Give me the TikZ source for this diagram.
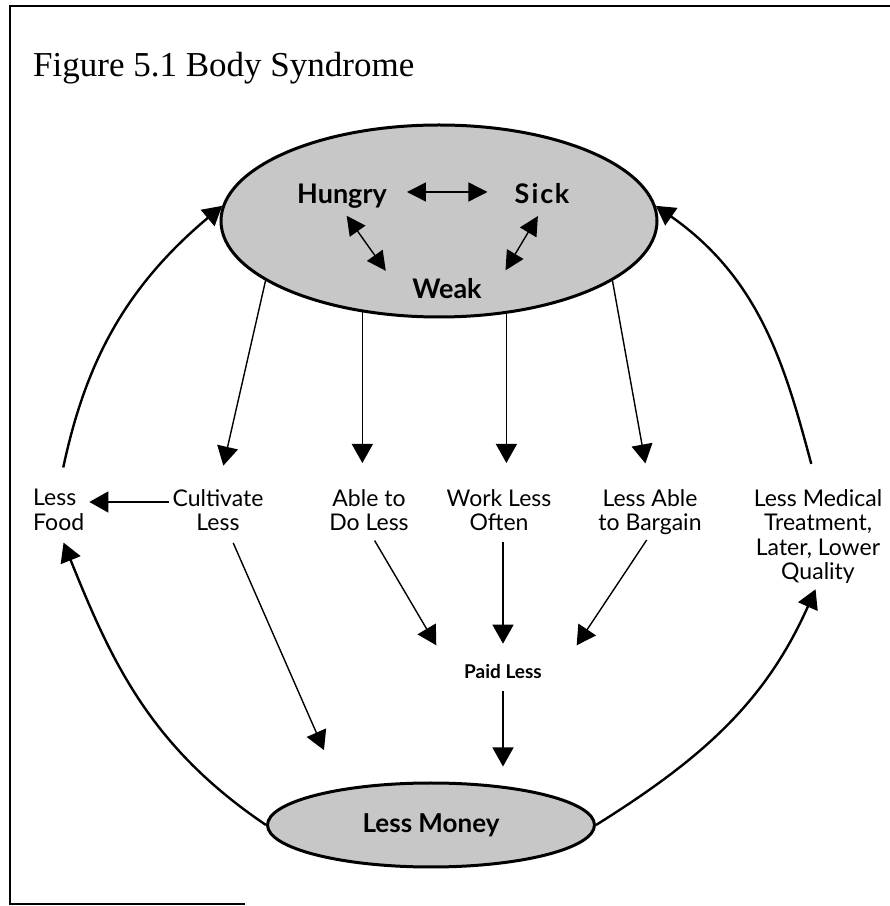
\documentclass[tikz,border=0pt]{standalone}
\usepackage{fontspec}
\setmainfont{Liberation Serif}
\newfontfamily\gill{Lato}
\usetikzlibrary{shapes.geometric,arrows.meta}

\begin{document}
\begin{tikzpicture}[x=1pt, y=1pt,
    lbl/.style={font=\gill\fontsize{23}{24.5}\selectfont, align=center, inner sep=0pt, anchor=north},
    sym/.style={font=\gill\bfseries\fontsize{27}{27}\selectfont, inner sep=0pt, text height=19pt, text depth=5pt},
    blob/.style={ellipse, draw=black, line width=3pt, fill=black!22, inner sep=0pt},
    arr/.style={-{Triangle[length=19pt,width=21pt]}, line width=1.4pt},
    curv/.style={-{Triangle[length=19pt,width=21pt]}, line width=2.4pt},
    both/.style={{Triangle[length=19pt,width=19pt]}-{Triangle[length=19pt,width=19pt]}, line width=1.4pt}]

\useasboundingbox (0,0) rectangle (890,906);
\draw[line width=2pt] (245,2) -- (10,2) -- (10,900) -- (890,900);

\node[anchor=base west, inner sep=0pt, font=\fontsize{35}{35}\selectfont] (title) at (33,829) {Figure 5.1 Body Syndrome};

% the body
\node[blob, minimum width=436pt, minimum height=192pt] (top) at (439,685) {};
\node[sym] (hungry) at (342,709) {Hungry};
\node[sym] (sick) at (542,709) {S\kern2pt i\kern2pt c\kern1.5pt k};
\node[sym] (weak) at (447,614) {Weak};

\draw[both, shorten <=20pt, shorten >=27pt] ([yshift=5pt]hungry.east) -- ([yshift=5pt]sick.west);
\draw[both, shorten <=8pt, shorten >=11pt] (hungry.south) -- ([xshift=-20pt]weak.north west);
\draw[both, shorten <=8pt, shorten >=11pt] (sick.south) -- ([xshift=18pt]weak.north east);

% middle row
\node[lbl, anchor=north west, align=left] (food) at (33,417) {Less\\Food};
\node[lbl] (cult) at (218,417) {Cultivate\\Less};
\node[lbl] (able) at (369,417) {Able to\\Do Less};
\node[lbl] (work) at (499,417) {Work Less\\Often};
\node[lbl] (barg) at (650,417) {Less Able\\to Bargain};
\node[lbl] (med) at (818,417) {Less Medical\\Treatment,\\Later, Lower\\Quality};

\node[font=\gill\bfseries\fontsize{19}{19}\selectfont, inner sep=0pt] (paid) at (503,234) {Paid Less};
\node[blob, minimum width=327pt, minimum height=84pt, font=\gill\bfseries\fontsize{26}{26}\selectfont] (money) at (431,81) {Less Money};

\draw[arr, shorten >=24pt] (top.199) -- (cult.north);
\draw[arr, shorten >=26pt] (top.230) -- (top.230 |- able.north);
\draw[arr, shorten >=26pt] (top.306) -- (top.306 |- work.north);
\draw[arr, shorten >=26pt] (top.341) -- (barg.north);

\draw[arr, shorten <=3pt] ([yshift=-13pt]cult.north west) -- ([yshift=-13pt,xshift=5pt]food.north east);

\draw[curv, shorten <=22pt] (food.north) to[out=78,in=220] (top.176);
\draw[curv, shorten <=26pt] (med.north) to[out=105,in=-35] (top.4);
\draw[curv, shorten >=13pt] (money.west) to[out=146,in=292] (food.south);
\draw[curv, shorten >=6pt] (money.east) to[out=32,in=246] (med.south);

\draw[arr, shorten <=13pt, shorten >=42pt] ([xshift=10pt]cult.south) -- (money.158);
\draw[arr, shorten <=11pt, shorten >=31pt] (able.south) -- ([xshift=-12pt]paid.west);
\draw[arr, shorten <=11pt, shorten >=21pt] (paid.north |- work.south) -- (paid.north);
\draw[arr, shorten <=6pt, shorten >=32pt] (barg.south) -- ([xshift=17pt]paid.east);
\draw[arr, shorten <=12pt, shorten >=15pt] (paid.south) -- (paid.south |- money.north);
\end{tikzpicture}
\end{document}
